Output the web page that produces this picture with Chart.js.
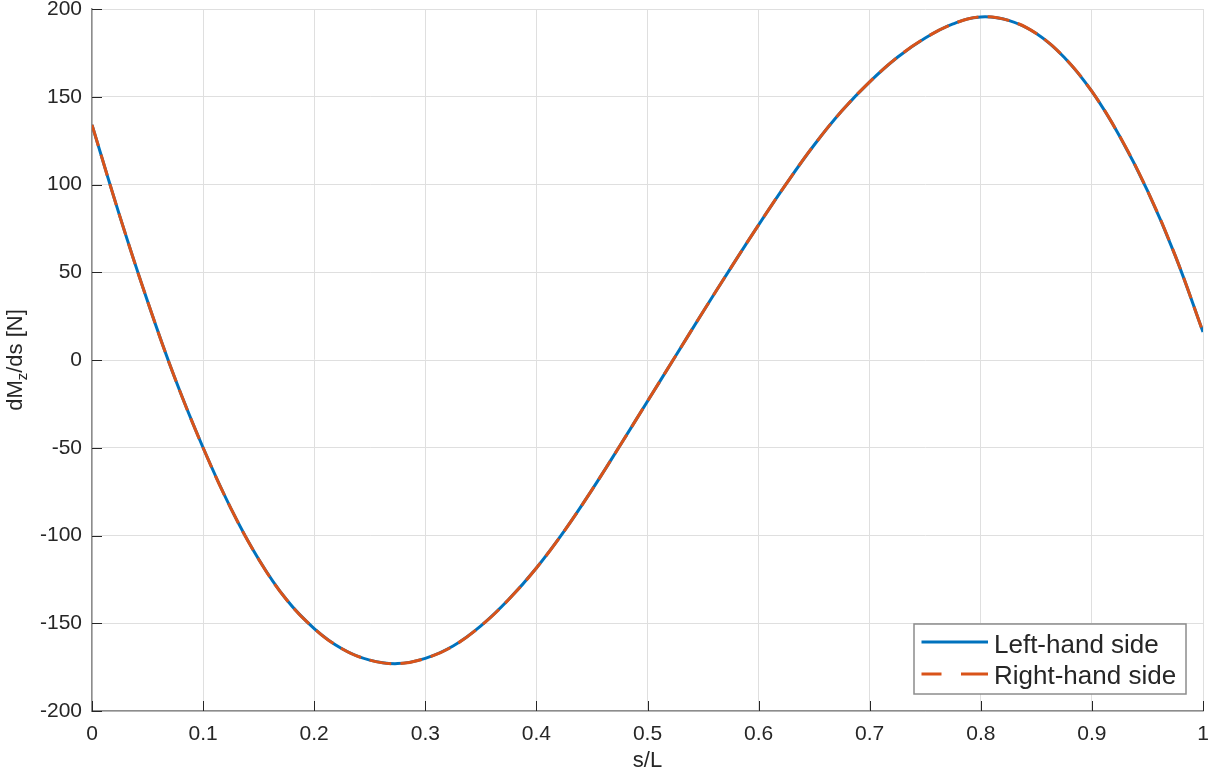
<!DOCTYPE html>
<html>
<head>
<meta charset="utf-8">
<script src="https://cdn.jsdelivr.net/npm/chart.js@4.4.1/dist/chart.umd.min.js"></script>
<style>
  html, body { margin: 0; padding: 0; background: #fff; }
  #wrap { width: 1209px; height: 774px; }
</style>
</head>
<body>
<div id="wrap"><canvas id="momentChart" width="1209" height="774"></canvas></div>
<script>
// s/L positions and dMz/ds values
const sValues = [
    0, 0.025, 0.05, 0.075, 0.1, 0.125, 0.15, 0.175, 0.2, 0.225,
    0.25, 0.275, 0.3, 0.325, 0.35, 0.375, 0.4, 0.425, 0.45, 0.475,
    0.5, 0.525, 0.55, 0.575, 0.6, 0.625, 0.65, 0.675, 0.7, 0.725,
    0.75, 0.775, 0.8, 0.825, 0.85, 0.875, 0.9, 0.925, 0.95, 0.975, 1
];
const leftHandSide = [
    134, 82, 33.5, -11, -50, -84.5, -113.5, -136.5, -153, -164.5,
    -171, -173, -170, -163, -151.5, -136.5, -118.5, -97.5, -74, -49,
    -23.5, 2, 27.5, 52.5, 77, 100.5, 122.5, 142, 158.5, 172.5,
    183.5, 191.5, 195.5, 193.5, 186, 172.5, 153, 127.5, 96.5, 59.5, 16
];
const rightHandSide = [
    134, 82, 33.5, -11, -50, -84.5, -113.5, -136.5, -153, -164.5,
    -171, -173, -170, -163, -151.5, -136.5, -118.5, -97.5, -74, -49,
    -23.5, 2, 27.5, 52.5, 77, 100.5, 122.5, 142, 158.5, 172.5,
    183.5, 191.5, 195.5, 193.5, 186, 172.5, 153, 127.5, 96.5, 59.5, 16
];
const seriesLabels = ['Left-hand side', 'Right-hand side'];
const xLabel = 's/L';
const yLabelParts = ['dM', 'z', '/ds [N]'];

const FONT = "'Liberation Sans', Arial, Helvetica, sans-serif";
const TEXT_COLOR = '#262626';
const BLUE = '#0072BD';
const ORANGE = '#D95319';

function toPoints(xs, ys) {
    return xs.map((x, i) => ({ x: x, y: ys[i] }));
}

// Tick marks inside the axes, y title with subscript, legend box
const axesDecor = {
    id: 'axesDecor',
    afterDraw(chart) {
        const ctx = chart.ctx;
        const area = chart.chartArea;
        const xs = chart.scales.x;
        const ys = chart.scales.y;
        ctx.save();

        ctx.strokeStyle = TEXT_COLOR;
        ctx.lineWidth = 1;
        ctx.beginPath();
        xs.ticks.forEach(t => {
            const px = Math.round(xs.getPixelForValue(t.value)) + 0.5;
            ctx.moveTo(px, area.bottom);
            ctx.lineTo(px, area.bottom - 10);
        });
        ys.ticks.forEach(t => {
            const py = Math.round(ys.getPixelForValue(t.value)) + 0.5;
            ctx.moveTo(area.left, py);
            ctx.lineTo(area.left + 10, py);
        });
        ctx.stroke();

        // y axis title
        const mainFont = '22px ' + FONT;
        const subFont = '15px ' + FONT;
        ctx.fillStyle = TEXT_COLOR;
        ctx.textBaseline = 'alphabetic';
        ctx.textAlign = 'left';
        ctx.font = mainFont;
        const w1 = ctx.measureText(yLabelParts[0]).width;
        const w3 = ctx.measureText(yLabelParts[2]).width;
        ctx.font = subFont;
        const w2 = ctx.measureText(yLabelParts[1]).width;
        const total = w1 + w2 + w3;
        ctx.save();
        ctx.translate(22, (area.top + area.bottom) / 2);
        ctx.rotate(-Math.PI / 2);
        let cx = -total / 2;
        ctx.font = mainFont;
        ctx.fillText(yLabelParts[0], cx, 0);
        cx += w1;
        ctx.font = subFont;
        ctx.fillText(yLabelParts[1], cx, 5);
        cx += w2;
        ctx.font = mainFont;
        ctx.fillText(yLabelParts[2], cx, 0);
        ctx.restore();

        // legend
        const boxW = 272, boxH = 70;
        const left = area.right - 17 - boxW;
        const top = area.bottom - 17 - boxH;
        ctx.fillStyle = '#ffffff';
        ctx.fillRect(left, top, boxW, boxH);
        ctx.strokeStyle = '#8c8c8c';
        ctx.lineWidth = 1.5;
        ctx.strokeRect(left, top, boxW, boxH);

        const ds = chart.data.datasets;
        ctx.lineWidth = 3;
        ctx.strokeStyle = ds[0].borderColor;
        ctx.beginPath();
        ctx.moveTo(left + 7.5, top + 18);
        ctx.lineTo(left + 74, top + 18);
        ctx.stroke();
        ctx.strokeStyle = ds[1].borderColor;
        ctx.beginPath();
        ctx.moveTo(left + 7.5, top + 50);
        ctx.lineTo(left + 27.5, top + 50);
        ctx.moveTo(left + 47, top + 50);
        ctx.lineTo(left + 74, top + 50);
        ctx.stroke();

        ctx.fillStyle = TEXT_COLOR;
        ctx.font = '26px ' + FONT;
        ctx.fillText(ds[0].label, left + 80, top + 29);
        ctx.fillText(ds[1].label, left + 80, top + 59.5);

        ctx.restore();
    }
};

const ctx = document.getElementById('momentChart').getContext('2d');
new Chart(ctx, {
    type: 'line',
    data: {
        datasets: [
            {
                label: seriesLabels[0],
                data: toPoints(sValues, leftHandSide),
                borderColor: BLUE,
                backgroundColor: BLUE,
                borderWidth: 3,
                pointRadius: 0,
                tension: 0.4,
                fill: false,
                order: 2
            },
            {
                label: seriesLabels[1],
                data: toPoints(sValues, rightHandSide),
                borderColor: ORANGE,
                backgroundColor: ORANGE,
                borderWidth: 3,
                borderDash: [22, 9],
                pointRadius: 0,
                tension: 0.4,
                fill: false,
                order: 1
            }
        ]
    },
    options: {
        responsive: false,
        animation: false,
        devicePixelRatio: 1,
        layout: { padding: { left: 0, right: 6, top: 9, bottom: 0 } },
        plugins: {
            legend: { display: false },
            tooltip: { enabled: false }
        },
        scales: {
            x: {
                type: 'linear',
                min: 0,
                max: 1,
                ticks: {
                    stepSize: 0.1,
                    autoSkip: false,
                    maxRotation: 0,
                    padding: 11,
                    color: TEXT_COLOR,
                    font: { family: FONT, size: 21 },
                    callback: v => String(Math.round(v * 10) / 10)
                },
                grid: { color: '#dfdfdf', lineWidth: 1, drawTicks: false },
                border: { color: '#8c8c8c', width: 1.5 },
                title: {
                    display: true,
                    text: xLabel,
                    color: TEXT_COLOR,
                    font: { family: FONT, size: 22 },
                    padding: { top: 0, bottom: 0 }
                },
                afterFit(scale) {
                    scale.height = 63;
                    scale.paddingLeft = 0;
                    scale.paddingRight = 0;
                }
            },
            y: {
                min: -200,
                max: 200,
                ticks: {
                    stepSize: 50,
                    padding: 10,
                    color: TEXT_COLOR,
                    font: { family: FONT, size: 21 }
                },
                grid: { color: '#dfdfdf', lineWidth: 1, drawTicks: false },
                border: { color: '#8c8c8c', width: 1.5 },
                afterFit(scale) {
                    scale.width = 92;
                    scale.paddingTop = 0;
                    scale.paddingBottom = 0;
                }
            }
        }
    },
    plugins: [axesDecor]
});
</script>
</body>
</html>
